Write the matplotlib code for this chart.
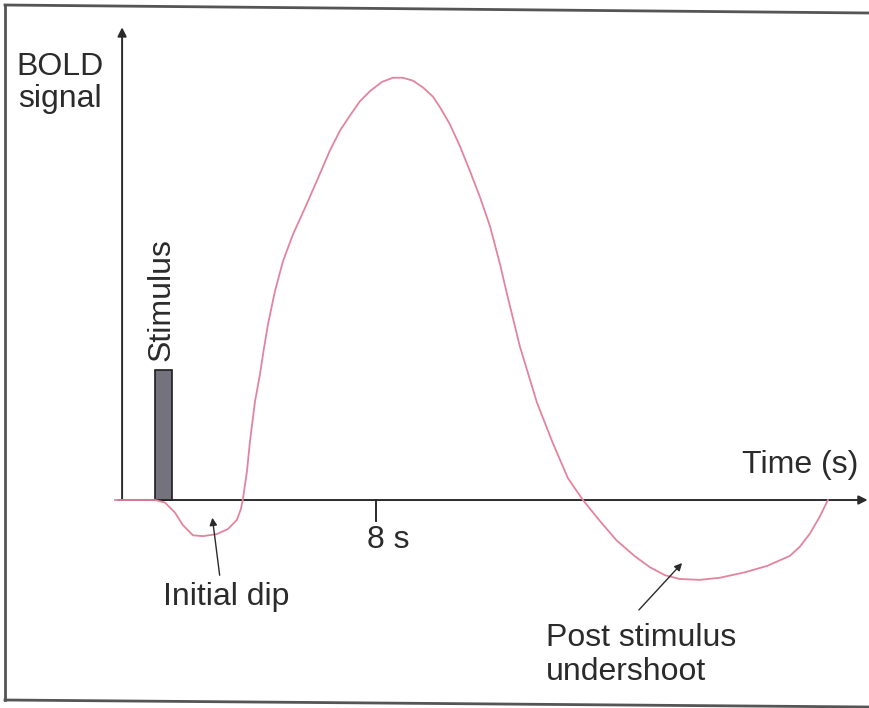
import numpy as np
import matplotlib.pyplot as plt
from matplotlib.lines import Line2D
from matplotlib.patches import FancyArrowPatch

plt.rcParams['font.family'] = ['Liberation Sans', 'DejaVu Sans']

# haemodynamic response: time in s after stimulus onset, signal in arbitrary units
time_s = [-1.448, -0.543, 0.0, 0.362, 0.724, 1.014, 1.376, 1.738, 2.244,
          2.643, 2.968, 3.113, 3.186, 3.330, 3.439, 3.620, 3.801, 3.946,
          4.090, 4.344, 4.633, 4.995, 5.430, 5.864, 6.335, 6.697, 7.059,
          7.421, 7.783, 8.217, 8.615, 8.977, 9.339, 9.701, 10.063, 10.317,
          10.679, 11.041, 11.403, 11.765, 12.127, 12.489, 12.742, 13.213,
          13.828, 14.407, 14.950, 15.493, 16.109, 16.724, 17.376, 17.919,
          18.462, 19.005, 19.729, 20.452, 21.357, 22.154, 22.986, 23.348,
          23.710, 24.072, 24.362]
bold = [0.0, 0.0, 0.0, -0.006, -0.030, -0.060, -0.084, -0.086, -0.081,
        -0.069, -0.047, -0.021, 0.003, 0.068, 0.139, 0.234, 0.299, 0.361,
        0.418, 0.497, 0.568, 0.632, 0.695, 0.760, 0.832, 0.879, 0.915,
        0.949, 0.973, 0.995, 1.005, 1.005, 0.998, 0.982, 0.960, 0.935,
        0.894, 0.842, 0.783, 0.721, 0.652, 0.562, 0.491, 0.365,
        0.232, 0.135, 0.052, 0.0, -0.050, -0.097, -0.134, -0.160,
        -0.179, -0.188, -0.190, -0.185, -0.172, -0.157, -0.133, -0.111,
        -0.080, -0.039, 0.0]

stim_start = 0.0
stim_len = 0.6
stim_height = 0.31
tick_time = 8

W, H = 869, 708
fig = plt.figure(figsize=(W / 100, H / 100), dpi=100)
ax = fig.add_axes([0, 0, 1, 1])
ax.set_xlim(-5.61, 25.85)
ax.set_ylim(-0.495, 1.19)
ax.axis('off')

ink = '#2b2b2b'

# axes with arrow heads
ax.annotate('', xy=(-1.19, 1.125), xytext=(-1.19, 0.0),
            arrowprops=dict(arrowstyle='-|>', color=ink, lw=1.4, mutation_scale=13, shrinkA=0, shrinkB=0))
ax.annotate('', xy=(25.8, 0.0), xytext=(-1.33, 0.0),
            arrowprops=dict(arrowstyle='-|>', color=ink, lw=1.4, mutation_scale=13, shrinkA=0, shrinkB=0))

# 8 s tick
ax.plot([tick_time, tick_time], [0, -0.05], color=ink, lw=1.4)

# stimulus block
ax.bar(stim_start, stim_height, width=stim_len, align='edge', color='#74727c', edgecolor='#1e1e1e', lw=1.2, zorder=3)

# BOLD curve
ax.plot(time_s, bold, color='#e3849e', lw=1.3, zorder=4, solid_joinstyle='round')

fs = 23
def px(x, y):
    return x / W, 1 - y / H

fig.text(*px(60, 83), 'BOLD\nsignal', ha='center', va='center', fontsize=fs, color=ink, linespacing=1.1)
fig.text(*px(800, 465), 'Time (s)', ha='center', va='center', fontsize=fs, color=ink)
fig.text(*px(388, 540), '8 s', ha='center', va='center', fontsize=fs, color=ink)
fig.text(*px(162, 300), 'Stimulus', ha='center', va='center', rotation=90, fontsize=fs, color=ink)
fig.text(*px(226, 597), 'Initial dip', ha='center', va='center', fontsize=fs, color=ink)
fig.text(*px(546, 655), 'Post stimulus\nundershoot', ha='left', va='center', fontsize=fs, color=ink, linespacing=1.15)

# pointer arrows
fig.add_artist(FancyArrowPatch(px(220, 578), px(212, 515), transform=fig.transFigure,
               arrowstyle='-|>', mutation_scale=11, lw=1.0, color=ink))
fig.add_artist(FancyArrowPatch(px(637, 612), px(684, 561), transform=fig.transFigure,
               arrowstyle='-|>', mutation_scale=11, lw=1.0, color=ink))

# frame around the figure
for (x0, y0), (x1, y1) in [((5, 5), (869, 13)), ((5, 5), (5, 700)), ((5, 700), (869, 707))]:
    (fx0, fy0), (fx1, fy1) = px(x0, y0), px(x1, y1)
    fig.add_artist(Line2D([fx0, fx1], [fy0, fy1], transform=fig.transFigure, color='#555555', lw=2))

fig.savefig('out.png', dpi=100, facecolor='white')
